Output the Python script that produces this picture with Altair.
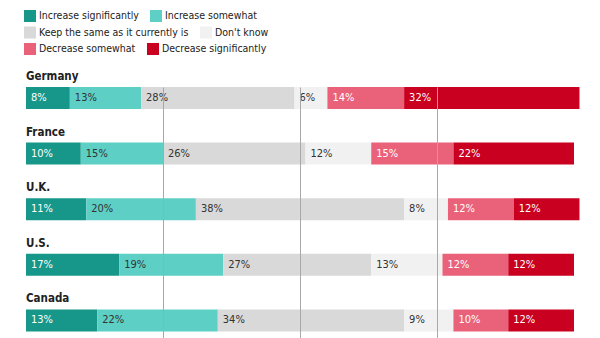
import altair as alt
import pandas as pd

countries = ["Germany", "France", "U.K.", "U.S.", "Canada"]
categories = ["Increase significantly", "Increase somewhat",
              "Keep the same as it currently is", "Don't know",
              "Decrease somewhat", "Decrease significantly"]
values = {
    "Germany": [8, 13, 28, 6, 14, 32],
    "France": [10, 15, 26, 12, 15, 22],
    "U.K.": [11, 20, 38, 8, 12, 12],
    "U.S.": [17, 19, 27, 13, 12, 12],
    "Canada": [13, 22, 34, 9, 10, 12],
}
colors = ["#16978a", "#5dcfc5", "#d9d9d9", "#f1f1f1", "#e9627a", "#c9001f"]
text_colors = ["white", "#333333", "#333333", "#333333", "white", "white"]

rows = []
for c in countries:
    start = 0
    for i, cat in enumerate(categories):
        v = values[c][i]
        rows.append({"country": c, "cat": cat, "order": i, "value": v,
                     "start": start, "end": start + v,
                     "label": f"{v}%", "tcolor": text_colors[i]})
        start += v
df = pd.DataFrame(rows)
names = pd.DataFrame({"country": countries})

FONT = "DejaVu Sans Condensed, sans-serif"

yscale = alt.Scale(domain=countries, paddingInner=0.604, paddingOuter=0.059, align=0)
xscale = alt.Scale(domain=[0, 100], nice=False, zero=True)
xaxis = alt.Axis(values=[25, 50, 75], labels=False, ticks=False, domain=False,
                 grid=True, gridColor="#a8a8a8", gridWidth=1, title=None, zindex=1)


def bar_layer(k, legend_y):
    cats = categories[2 * k:2 * k + 2]
    cols = colors[2 * k:2 * k + 2]
    return alt.Chart(df).transform_filter(
        alt.FieldOneOfPredicate(field="cat", oneOf=cats)
    ).mark_bar().encode(
        x=alt.X("start:Q", scale=xscale, axis=xaxis),
        x2="end:Q",
        y=alt.Y("country:N", scale=yscale, axis=None),
        color=alt.Color("cat:N", scale=alt.Scale(domain=cats, range=cols),
                        legend=alt.Legend(orient="none", legendX=-2, legendY=legend_y,
                                          direction="horizontal", title=None,
                                          symbolType="square", symbolSize=144,
                                          symbolStrokeWidth=0, labelFontSize=10.5,
                                          labelFont=FONT, labelColor="#222222",
                                          labelOffset=3, columnPadding=11, padding=0,
                                          symbolOpacity=1, labelLimit=300)),
    )


bars = [bar_layer(0, -77), bar_layer(1, -60.5), bar_layer(2, -44)]

labels = alt.Chart(df).mark_text(align="left", baseline="middle", dx=5, fontSize=11, font=FONT).encode(
    x=alt.X("start:Q", scale=xscale, axis=xaxis),
    y=alt.Y("country:N", scale=yscale, axis=None),
    text="label:N",
    color=alt.Color("tcolor:N", scale=None, legend=None),
)

country_labels = alt.Chart(names).mark_text(align="left", baseline="alphabetic", dy=-18,
                                            fontSize=11.5, fontWeight="bold", font=FONT,
                                            color="#222222").encode(
    x=alt.datum(0),
    y=alt.Y("country:N", scale=yscale, axis=None),
    text="country:N",
)

chart = alt.layer(*bars, labels, country_labels).resolve_scale(
    color="independent"
).properties(
    width=548, height=251,
    autosize=alt.AutoSizeParams(type="none"),
    padding={"left": 26, "top": 87, "right": 26, "bottom": 0},
).configure_view(stroke=None)

chart.save("out.html", embed_options={"renderer": "svg", "actions": False})
